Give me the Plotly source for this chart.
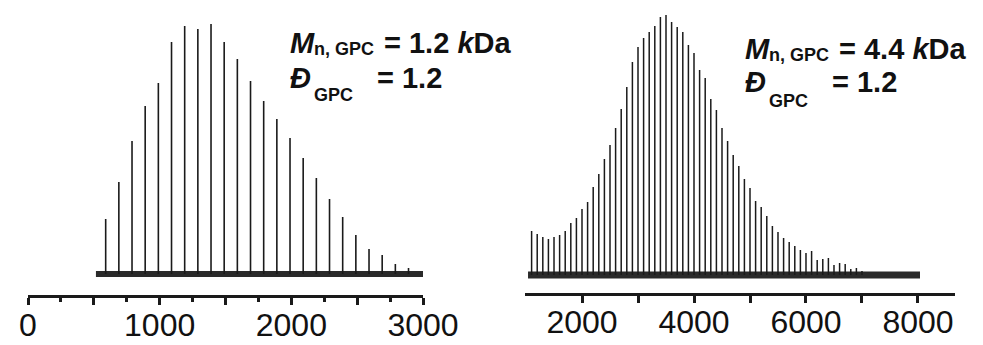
import plotly.graph_objects as go

# ---------------- data ----------------
# Left spectrum (Mn,GPC = 1.2 kDa): peak m/z and relative intensity
left_mz = [590, 690, 790, 890, 990, 1090, 1190, 1290, 1390, 1490, 1590, 1690,
           1790, 1890, 1990, 2090, 2190, 2290, 2390, 2490, 2590, 2690, 2790, 2890]
left_int = [55, 92, 133, 168, 191, 232, 248, 245, 250, 232, 215, 193,
            173, 155, 136, 116, 96, 75, 57, 39, 25, 19, 10, 6]
left_baseline_range = [516, 3000]

# Right spectrum (Mn,GPC = 4.4 kDa)
right_mz = [1100, 1200, 1300, 1400, 1500, 1600, 1700, 1800, 1900, 2000,
            2100, 2200, 2300, 2400, 2500, 2600, 2700, 2800, 2900, 3000,
            3100, 3200, 3300, 3400, 3500, 3600, 3700, 3800, 3900, 4000,
            4100, 4200, 4300, 4400, 4500, 4600, 4700, 4800, 4900, 5000,
            5100, 5200, 5300, 5400, 5500, 5600, 5700, 5800, 5900, 6000,
            6100, 6200, 6300, 6400, 6500, 6600, 6700, 6800, 6900, 7000]
right_int = [44, 41, 38, 36, 38, 40, 44, 52, 57, 66,
             73, 88, 101, 116, 130, 147, 166, 188, 213, 228,
             237, 243, 249, 258, 260, 253, 248, 243, 230, 222,
             205, 197, 176, 165, 147, 134, 120, 109, 96, 87,
             74, 68, 59, 49, 43, 37, 33, 29, 25, 22,
             24, 15, 16, 17, 10, 12, 11, 6, 7, 4]
right_baseline_range = [1036, 8036]

left_ticks = [0, 500, 1000, 1500, 2000, 2500, 3000]
left_ticktext = ["0", "", "1000", "", "2000", "", "3000"]
left_minor = [250, 750, 1250, 1750, 2250, 2750]
right_ticks = [2000, 3000, 4000, 5000, 6000, 7000, 8000]
right_ticktext = ["2000", "", "4000", "", "6000", "", "8000"]

FONT = "Liberation Sans, Arial, sans-serif"
W, H = 983, 345


def sticks(mz, inten):
    xs, ys = [], []
    for m, v in zip(mz, inten):
        xs += [m, m, None]
        ys += [0, v, None]
    return xs, ys


fig = go.Figure()

lx, ly = sticks(left_mz, left_int)
fig.add_trace(go.Scatter(x=left_baseline_range, y=[0, 0], mode="lines",
                         line=dict(color="#2a2a2a", width=6),
                         xaxis="x", yaxis="y", showlegend=False, hoverinfo="skip"))
fig.add_trace(go.Scatter(x=lx, y=ly, mode="lines",
                         line=dict(color="#1a1a1a", width=1.6),
                         xaxis="x", yaxis="y", showlegend=False))

rx, ry = sticks(right_mz, right_int)
fig.add_trace(go.Scatter(x=right_baseline_range, y=[0, 0], mode="lines",
                         line=dict(color="#2a2a2a", width=7),
                         xaxis="x2", yaxis="y2", showlegend=False, hoverinfo="skip"))
fig.add_trace(go.Scatter(x=rx, y=ry, mode="lines",
                         line=dict(color="#1a1a1a", width=1.5),
                         xaxis="x2", yaxis="y2", showlegend=False))

axis_common = dict(
    showgrid=False, zeroline=False, showline=True, linecolor="#1a1a1a",
    linewidth=3, ticks="outside", ticklen=7, tickwidth=2.5, tickcolor="#1a1a1a",
    tickfont=dict(family=FONT, size=32, color="#111"), tickmode="array",
)

fig.update_layout(
    width=W, height=H,
    margin=dict(l=0, r=0, t=0, b=0, autoexpand=False),
    paper_bgcolor="white", plot_bgcolor="white",
    xaxis=dict(domain=[28 / W, 423 / W], range=[0, 3000], anchor="y",
               tickvals=left_ticks, ticktext=left_ticktext, ticklabelstandoff=-7,
               minor=dict(ticks="outside", ticklen=4, tickwidth=2.5,
                          tickcolor="#1a1a1a", tickvals=left_minor),
               **axis_common),
    yaxis=dict(domain=[(H - 295) / H, 1], range=[-21, 274], visible=False),
    xaxis2=dict(domain=[525 / W, 955 / W], range=[982, 8661], anchor="y2",
                tickvals=right_ticks, ticktext=right_ticktext, ticklabelstandoff=-8,
                **axis_common),
    yaxis2=dict(domain=[(H - 293) / H, 1], range=[-18, 275], visible=False),
)


def ann(text, xpx, base_px, size):
    center = base_px - 0.3465 * size
    fig.add_annotation(text=text, x=xpx / W, y=1 - center / H, xref="paper", yref="paper",
                       xanchor="left", yanchor="middle", showarrow=False,
                       font=dict(family=FONT, size=size, color="#111"), borderpad=0)


for dx, dy in [(0, 0), (455, 6)]:
    val = "1.2" if dx == 0 else "4.4"
    ann("<b><i>M</i></b>", 289 + dx, 53 + dy, 29)
    ann("<b>n, GPC</b>", 313 + dx, 55 + dy, 18)
    ann("<b>= " + val + " <i>k</i>Da</b>", 383 + dx, 53 + dy, 29)
    ann("<b><i>Đ</i></b>", 289 + dx, 88 + dy - (2 if dx else 0), 29)
    ann("<b>GPC</b>", 313 + dx, 101 + dy, 18)
    ann("<b>= 1.2</b>", 376 + dx, 88 + dy - (2 if dx else 0), 29)

fig.write_html("out.html")
